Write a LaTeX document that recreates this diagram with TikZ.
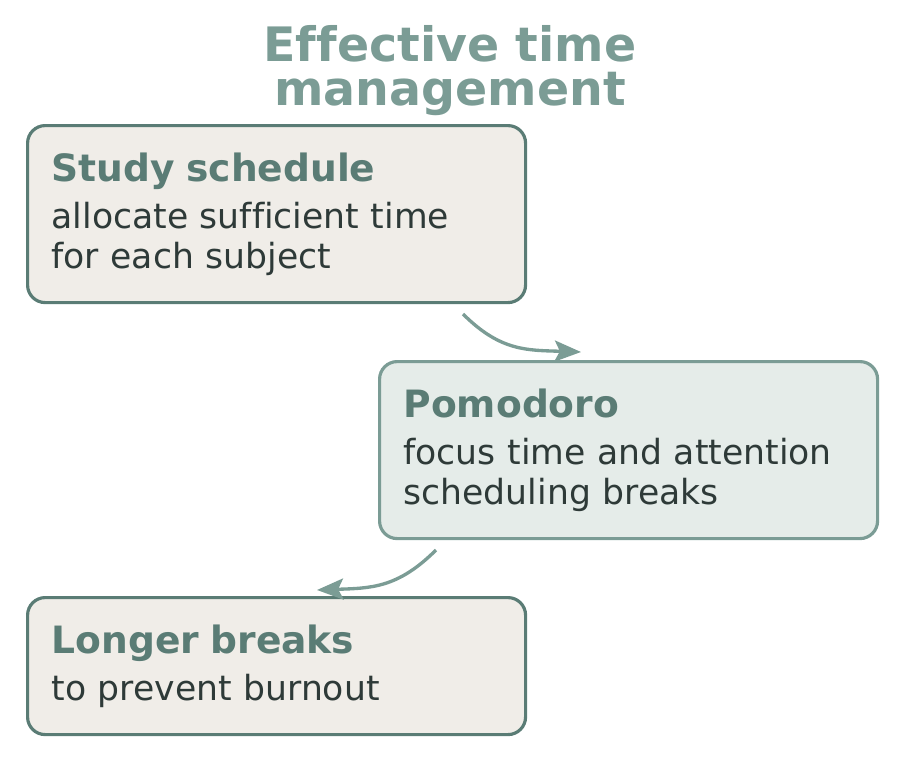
\documentclass[tikz,border=0pt]{standalone}
\usepackage{fontspec}
\setmainfont{DejaVu Sans}[Ligatures=NoCommon]
\usetikzlibrary{arrows.meta}

\definecolor{sage}{HTML}{7B9C95}
\definecolor{sagedark}{HTML}{5A7C75}
\definecolor{paper}{HTML}{F0EDE8}
\definecolor{mist}{HTML}{E5ECE9}
\definecolor{ink}{HTML}{2E3A38}

\tikzset{
    card/.style={draw=sagedark, fill=paper, line width=1.8pt, rounded corners=10pt,
        anchor=north west, minimum width=9.9cm, text width=9.0cm, inner xsep=0.48cm,
        align=left, text=ink, font=\fontsize{19.7}{22.7}\selectfont},
    cardalt/.style={card, draw=sage, fill=mist},
    flow/.style={draw=sage, line width=1.9pt, -{Stealth[length=15pt,width=12pt,inset=3pt]}},
}
\newcommand{\cardhead}[1]{{\fontsize{21.4}{22.7}\selectfont\bfseries\color{sagedark}#1}\\[4pt]}

\begin{document}
\begin{tikzpicture}
    \useasboundingbox (0,0) rectangle (18,-15.2);

    % Title
    \node[align=center, text=sage, font=\fontsize{27}{25}\selectfont\bfseries] (title) at (9,-1.42)
        {Effective time\\management};

    % Cards
    \node[card, minimum height=3.54cm] (study) at (0.52,-2.48)
        {\cardhead{Study schedule}allocate sufficient time\\for each subject};
    \node[cardalt, minimum height=3.54cm] (pomodoro) at (7.56,-7.2)
        {\cardhead{Pomodoro}focus time and attention\\scheduling breaks};
    \node[card, minimum height=2.74cm] (breaks) at (0.52,-11.92)
        {\cardhead{Longer breaks}to prevent burnout};

    % Connectors
    \coordinate (s1) at (9.26,-6.28);
    \coordinate (e1) at (11.62,-7.04);
    \coordinate (s2) at (8.72,-11.0);
    \coordinate (e2) at (6.34,-11.8);
    \draw[flow] (s1) to[out=-45, in=178, looseness=1.1] (e1);
    \draw[flow] (s2) to[out=-135, in=2, looseness=1.1] (e2);
\end{tikzpicture}
\end{document}
